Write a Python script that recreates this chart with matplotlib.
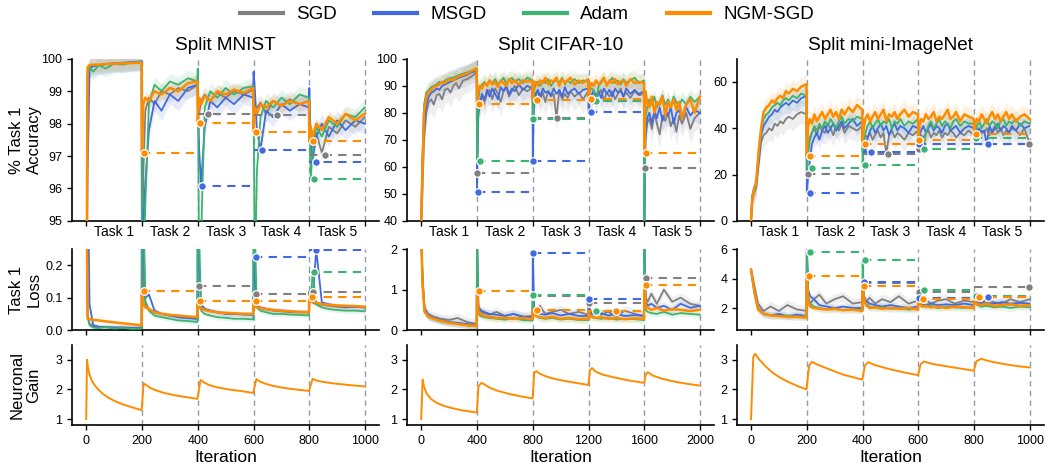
import matplotlib
matplotlib.use("Agg")
from matplotlib import pyplot as plt
import numpy as np

plt.rcParams['font.family'] = ['Liberation Sans', 'DejaVu Sans']

methods = ["SGD", "MSGD", "Adam", "NGM-SGD"]
colors = ["gray", "royalblue", "mediumseagreen", "darkorange"]

# iteration grid: start of each task + offsets inside a task
starts_1k = [0, 200, 400, 600, 800]
offsets_1k = [0, 5, 12, 25, 45, 70, 100, 130, 165, 199]
offsets_1k_fine = [0, 4, 10, 18, 27, 36, 45, 55, 65, 75, 85, 95, 105, 115, 125, 135, 150, 165, 180, 199]
starts_2k = [0, 400, 800, 1200, 1600]
offsets_2k = [0, 10, 24, 50, 90, 140, 200, 260, 330, 398]
offsets_2k_fine = [0, 8, 20, 36, 54, 72, 90, 110, 130, 150, 170, 190, 210, 230, 250, 270, 300, 330, 360, 398]

# ---------------- Split MNIST ----------------
mnist_acc_sgd = [90, 99.6, 99.72, 99.78, 99.8, 99.83, 99.85, 99.86, 99.88, 99.9,
                 93.5, 96.5, 98.4, 98.8, 98.6, 99.0, 98.9, 99.1, 99.0, 99.2,
                 98.5, 98.3, 98.7, 98.9, 98.7, 98.95, 98.8, 99.0, 98.9, 99.05,
                 98.6, 98.4, 98.5, 98.65, 98.3, 98.7, 98.55, 98.75, 98.6, 98.7,
                 98.6, 97.5, 97.3, 97.7, 97.1, 97.9, 97.7, 98.1, 97.9, 98.2]
mnist_acc_msgd = [90, 96.5, 99.7, 99.78, 99.8, 99.84, 99.86, 99.88, 99.9, 99.92,
                  93.0, 94.8, 96.2, 97.8, 98.7, 98.4, 98.9, 98.7, 99.1, 99.2,
                  99.0, 97.2, 96.1, 97.9, 98.7, 98.5, 98.8, 98.6, 98.9, 98.8,
                  99.6, 99.0, 97.8, 97.2, 98.4, 98.2, 98.6, 98.4, 98.6, 98.5,
                  99.1, 97.5, 96.9, 97.6, 98.0, 97.6, 98.1, 97.8, 98.1, 98.0]
mnist_acc_adam = [90, 99.5, 99.75, 99.6, 99.8, 99.7, 99.85, 99.82, 99.88, 99.9,
                  91.0, 93.0, 95.5, 98.6, 99.2, 99.0, 99.3, 99.2, 99.4, 99.3,
                  99.7, 93.5, 94.5, 98.5, 99.0, 98.8, 99.1, 98.9, 99.1, 99.15,
                  98.9, 93.0, 96.5, 98.2, 98.7, 98.5, 98.8, 98.6, 98.9, 98.8,
                  98.7, 96.3, 97.2, 97.9, 97.6, 98.1, 97.9, 98.3, 98.2, 98.5]
mnist_acc_ngm = [90, 99.75, 99.8, 99.82, 99.82, 99.84, 99.85, 99.86, 99.87, 99.88,
                 97.1, 98.6, 98.8, 98.7, 99.0, 98.9, 99.1, 99.0, 99.25, 99.3,
                 98.05, 98.8, 98.6, 98.85, 98.7, 99.0, 98.9, 99.05, 98.95, 99.1,
                 97.75, 98.5, 98.3, 98.6, 98.5, 98.7, 98.55, 98.7, 98.6, 98.7,
                 97.45, 97.9, 97.6, 98.0, 97.8, 98.2, 98.0, 98.3, 98.1, 98.3]
mnist_acc_spread = [0.25, 0.3, 0.25, 0.2]
# worst point of each later task: (iteration, value)
mnist_acc_min_sgd = [(205, 93.5), (436, 98.3), (683, 98.27), (856, 97.04)]
mnist_acc_min_msgd = [(200, 93.0), (416, 96.09), (632, 97.19), (824, 96.83)]
mnist_acc_min_adam = [(200, 91.0), (405, 93.5), (605, 93.0), (818, 96.29)]
mnist_acc_min_ngm = [(207, 97.09), (408, 98.03), (609, 97.73), (814, 97.45)]

mnist_loss_sgd = [0.6, 0.05, 0.02, 0.012, 0.01, 0.009, 0.008, 0.008, 0.007, 0.007,
                  0.6, 0.15, 0.08, 0.065, 0.055, 0.05, 0.045, 0.04, 0.038, 0.035,
                  0.136, 0.085, 0.07, 0.065, 0.06, 0.055, 0.052, 0.05, 0.05, 0.048,
                  0.112, 0.08, 0.07, 0.068, 0.065, 0.06, 0.058, 0.056, 0.055, 0.055,
                  0.119, 0.09, 0.085, 0.08, 0.078, 0.075, 0.072, 0.07, 0.072, 0.07]
mnist_loss_msgd = [0.6, 0.55, 0.08, 0.015, 0.01, 0.009, 0.008, 0.008, 0.007, 0.007,
                   0.6, 0.3, 0.1, 0.11, 0.06, 0.05, 0.045, 0.04, 0.037, 0.035,
                   0.6, 0.2, 0.08, 0.065, 0.06, 0.055, 0.05, 0.05, 0.048, 0.047,
                   0.225, 0.15, 0.075, 0.07, 0.065, 0.062, 0.06, 0.057, 0.056, 0.055,
                   0.1, 0.09, 0.1, 0.248, 0.085, 0.08, 0.075, 0.072, 0.072, 0.07]
mnist_loss_adam = [0.6, 0.04, 0.015, 0.008, 0.006, 0.01, 0.005, 0.007, 0.004, 0.005,
                   0.6, 0.4, 0.09, 0.06, 0.045, 0.04, 0.035, 0.03, 0.028, 0.025,
                   0.6, 0.3, 0.06, 0.05, 0.045, 0.04, 0.038, 0.035, 0.035, 0.033,
                   0.6, 0.3, 0.07, 0.06, 0.055, 0.05, 0.05, 0.048, 0.047, 0.045,
                   0.1, 0.09, 0.178, 0.08, 0.07, 0.065, 0.062, 0.06, 0.06, 0.058]
mnist_loss_ngm = [0.6, 0.035, 0.034, 0.032, 0.03, 0.027, 0.024, 0.021, 0.018, 0.015,
                  0.12, 0.08, 0.07, 0.065, 0.055, 0.05, 0.047, 0.045, 0.042, 0.04,
                  0.09, 0.07, 0.068, 0.062, 0.058, 0.055, 0.053, 0.052, 0.05, 0.05,
                  0.09, 0.075, 0.07, 0.068, 0.065, 0.062, 0.06, 0.058, 0.056, 0.055,
                  0.101, 0.09, 0.088, 0.085, 0.08, 0.078, 0.076, 0.075, 0.074, 0.072]
mnist_loss_spread = [0.008, 0.008, 0.008, 0.006]
mnist_loss_max_sgd = [(205, 0.6), (406, 0.136), (610, 0.112), (812, 0.119)]
mnist_loss_max_msgd = [(205, 0.6), (405, 0.6), (610, 0.225), (824, 0.248)]
mnist_loss_max_adam = [(205, 0.6), (405, 0.6), (605, 0.6), (818, 0.178)]
mnist_loss_max_ngm = [(207, 0.12), (408, 0.09), (609, 0.09), (811, 0.101)]

mnist_gain_x = [0, 3, 6, 12, 20, 30, 45, 60, 80, 100, 130, 160, 199,
                206, 215, 230, 250, 280, 320, 360, 399,
                410, 420, 440, 470, 510, 560, 599,
                610, 620, 640, 670, 710, 760, 799,
                812, 825, 850, 890, 940, 1000]
mnist_gain = [1.0, 3.0, 2.75, 2.5, 2.3, 2.15, 1.98, 1.85, 1.72, 1.62, 1.5, 1.41, 1.3,
              2.2, 2.15, 2.05, 1.97, 1.88, 1.8, 1.74, 1.68,
              2.32, 2.25, 2.15, 2.07, 2.0, 1.94, 1.88,
              2.35, 2.28, 2.2, 2.12, 2.05, 1.99, 1.95,
              2.36, 2.3, 2.25, 2.2, 2.15, 2.1]

# ---------------- Split CIFAR-10 ----------------
cifar_acc_sgd = [40, 50, 70, 80, 84, 85, 83, 86.5, 87, 85, 88.5, 89, 87.5, 90, 91, 89, 92, 92.5, 93.5, 95,
                 57.7, 78, 83, 86, 84, 87, 88.5, 85, 89, 87, 84, 88, 89.5, 86, 88, 90, 86.5, 89, 88, 89.5,
                 86, 82, 86, 88, 85, 87.5, 84, 88, 86, 87, 78, 88.5, 85, 87, 85.5, 88, 86, 87.5, 85, 88,
                 86, 84.5, 86.5, 88, 85, 87, 88.5, 84.5, 87.5, 86, 88, 85, 87, 89, 86, 87.5, 85.5, 88, 86.5, 87,
                 59.5, 70, 76, 78, 74, 80, 76, 72, 79, 77, 80, 75, 78, 73, 79, 76, 80, 74, 78, 80]
cifar_acc_msgd = [40, 62, 74, 83, 86, 87.5, 88, 89, 88.5, 90, 90.5, 91, 91.5, 92, 92.5, 93, 93.5, 94, 95, 95.5,
                  50.5, 80, 84, 87, 85, 88.5, 86, 89, 87, 85, 89.5, 88, 90, 87, 89, 88, 90.5, 88.5, 90, 89,
                  62, 84, 87, 88.5, 86, 89, 87.5, 88, 86.5, 89, 87, 88.5, 86, 89.5, 87, 88, 89, 87, 88.5, 89,
                  80.2, 84, 86, 88, 86.5, 88, 85.5, 89, 87, 88.5, 86, 89, 87.5, 88, 86, 89, 87, 88.5, 87, 88,
                  38, 72, 78, 80, 76, 81, 78, 82, 77, 80, 79, 82, 76, 80, 81, 78, 82, 79, 81, 80]
cifar_acc_adam = [40, 62, 83, 87.5, 88.5, 89.5, 90, 90.5, 91.5, 91, 92, 92.5, 93, 93, 93.5, 94, 94.5, 95, 95.5, 96,
                  62, 84, 89, 90.5, 91.5, 90, 92, 91, 92.5, 90.5, 91.5, 93, 91, 92, 93, 91.5, 92.5, 91, 93, 92,
                  77.8, 88, 90.5, 91.5, 90, 92, 91, 92.5, 90, 91.5, 92, 91, 93, 90.5, 92, 91, 92.5, 91, 92, 91.5,
                  87, 88, 89, 88.5, 84.2, 90, 91, 92.5, 90.5, 91.5, 93, 91, 92, 90.5, 92.5, 91, 92, 93, 91, 92,
                  35, 78, 82, 85, 83, 86, 82, 84, 86.5, 83, 85, 82, 86, 84, 82.5, 85, 83, 86, 84, 86]
cifar_acc_ngm = [40, 57, 80, 86, 88, 88.5, 89.5, 90, 90.5, 91.5, 91, 92, 92.5, 92, 93, 93.5, 94, 94.5, 95.5, 96.5,
                 83.3, 88, 90, 89, 91, 90, 92, 90.5, 91.5, 89.5, 92, 91, 90, 92.5, 91, 92, 90.5, 92, 91.5, 92,
                 84.8, 90, 91.5, 90, 92, 91, 93, 90.5, 92, 91.5, 93, 90, 92.5, 91, 92, 93, 90.5, 92, 91, 92.5,
                 85.2, 89, 91, 90, 92, 90.5, 91.5, 93, 90, 92, 91, 92.5, 90.5, 91.5, 92, 90, 92.5, 91, 91.5, 91,
                 65, 88, 84, 82, 86, 80, 84, 83, 86, 79, 84, 82, 85, 81, 84, 78, 83, 85, 80, 86]
cifar_acc_spread = [5, 4, 3, 3]
cifar_acc_min_sgd = [(402, 57.7), (977, 78.0), (1230, 84.5), (1605, 59.5)]
cifar_acc_min_msgd = [(407, 50.5), (805, 62.0), (1214, 80.2), (1600, 38)]
cifar_acc_min_adam = [(419, 62.0), (805, 77.8), (1253, 84.2), (1600, 35)]
cifar_acc_min_ngm = [(415, 83.3), (831, 84.8), (1214, 85.2), (1610, 65.0)]

cifar_loss_sgd = [2.3, 1.3, 0.55, 0.4, 0.33, 0.28, 0.25, 0.3, 0.2, 0.15,
                  2.3, 0.5, 0.45, 0.42, 0.38, 0.45, 0.35, 0.4, 0.33, 0.35,
                  0.85, 0.5, 0.45, 0.6, 0.4, 0.45, 0.5, 0.4, 0.45, 0.38,
                  0.68, 0.45, 0.4, 0.5, 0.38, 0.45, 0.35, 0.48, 0.4, 0.35,
                  1.28, 0.8, 0.7, 0.9, 0.65, 1.0, 0.7, 0.8, 0.65, 0.6]
cifar_loss_msgd = [2.3, 1.2, 0.5, 0.35, 0.3, 0.25, 0.2, 0.18, 0.15, 0.12,
                   2.3, 0.6, 0.5, 0.45, 0.4, 0.38, 0.35, 0.4, 0.33, 0.32,
                   1.9, 0.55, 0.45, 0.4, 0.38, 0.42, 0.36, 0.4, 0.35, 0.35,
                   0.77, 0.45, 0.4, 0.38, 0.42, 0.36, 0.4, 0.35, 0.37, 0.35,
                   2.2, 0.7, 0.6, 0.65, 0.55, 0.6, 0.5, 0.65, 0.55, 0.6]
cifar_loss_adam = [2.3, 1.1, 0.45, 0.33, 0.28, 0.22, 0.18, 0.15, 0.12, 0.1,
                   2.3, 0.4, 0.35, 0.32, 0.3, 0.28, 0.26, 0.3, 0.25, 0.24,
                   0.86, 0.4, 0.35, 0.3, 0.28, 0.3, 0.26, 0.28, 0.25, 0.25,
                   0.48, 0.35, 0.32, 0.3, 0.28, 0.3, 0.26, 0.28, 0.27, 0.25,
                   2.3, 0.5, 0.45, 0.42, 0.4, 0.45, 0.38, 0.42, 0.4, 0.38]
cifar_loss_ngm = [2.3, 1.1, 0.45, 0.33, 0.28, 0.23, 0.18, 0.15, 0.12, 0.1,
                  0.975, 0.45, 0.4, 0.35, 0.33, 0.3, 0.3, 0.28, 0.3, 0.27,
                  0.5, 0.38, 0.35, 0.32, 0.3, 0.33, 0.28, 0.3, 0.27, 0.28,
                  0.48, 0.36, 0.33, 0.3, 0.32, 0.28, 0.3, 0.27, 0.29, 0.28,
                  1.125, 0.6, 0.55, 0.5, 0.55, 0.48, 0.52, 0.5, 0.47, 0.5]
cifar_loss_spread = [0.12, 0.1, 0.08, 0.08]
cifar_loss_max_sgd = [(400, 2.3), (805, 0.85), (1202, 0.68), (1612, 1.28)]
cifar_loss_max_msgd = [(400, 2.3), (805, 1.9), (1202, 0.77), (1600, 2.2)]
cifar_loss_max_adam = [(400, 2.3), (805, 0.86), (1253, 0.48), (1600, 2.3)]
cifar_loss_max_ngm = [(415, 0.975), (831, 0.5), (1397, 0.48), (1612, 1.125)]

cifar_gain_x = [0, 10, 20, 40, 70, 110, 160, 220, 300, 399,
                410, 430, 450, 490, 550, 630, 720, 799,
                810, 825, 850, 900, 970, 1060, 1199,
                1210, 1225, 1250, 1300, 1380, 1480, 1599,
                1610, 1625, 1660, 1720, 1820, 1920, 2000]
cifar_gain = [1.0, 2.33, 2.1, 1.85, 1.68, 1.55, 1.45, 1.37, 1.29, 1.22,
              2.1, 2.22, 2.18, 2.06, 1.95, 1.85, 1.76, 1.7,
              2.55, 2.62, 2.53, 2.43, 2.34, 2.26, 2.15,
              2.65, 2.72, 2.6, 2.5, 2.41, 2.31, 2.22,
              2.5, 2.58, 2.47, 2.37, 2.26, 2.18, 2.13]

# ---------------- Split mini-ImageNet ----------------
mini_acc_sgd = [0, 8, 12, 14, 24, 34, 37, 38, 40, 39, 42, 41, 43, 42, 44, 45, 44, 46, 47, 46,
                20.4, 32, 36, 38, 40, 37, 41, 39, 38, 42, 40, 37, 41, 39, 42, 38, 41, 40, 39, 41,
                30, 34, 37, 36, 38, 35, 37, 39, 36, 38, 29, 37, 39, 36, 38, 37, 35, 38, 37, 39,
                31.5, 35, 37, 36, 38, 39, 36, 38, 37, 39, 36, 38, 37, 39, 38, 36, 38, 37, 39, 37,
                36, 38, 40, 37, 39, 38, 40, 37, 39, 41, 38, 40, 37, 39, 38, 40, 39, 37, 40, 33.4]
mini_acc_msgd = [0, 10, 13, 15, 26, 37, 41, 43, 45, 46, 48, 47, 49, 50, 51, 50, 52, 51, 53, 54,
                 12, 18, 25, 33, 36, 38, 35, 39, 41, 38, 40, 42, 39, 41, 43, 40, 42, 44, 41, 43,
                 35, 33, 29.6, 36, 39, 41, 38, 40, 42, 39, 41, 37, 40, 42, 39, 41, 40, 38, 41, 40,
                 33.3, 37, 39, 41, 38, 40, 42, 39, 41, 40, 38, 41, 42, 39, 40, 41, 38, 40, 41, 40,
                 38, 39, 37, 40, 38, 39, 33.2, 41, 38, 40, 42, 39, 41, 40, 38, 41, 39, 42, 40, 41]
mini_acc_adam = [0, 11, 14, 16, 28, 39, 44, 46, 47, 49, 50, 51, 50, 52, 53, 52, 54, 53, 55, 54,
                 22.8, 28, 34, 38, 41, 39, 42, 40, 43, 41, 44, 42, 40, 43, 45, 42, 44, 43, 45, 44,
                 24, 34, 38, 41, 43, 40, 42, 44, 41, 43, 42, 44, 40, 43, 42, 44, 41, 43, 42, 44,
                 36, 34, 33, 31.0, 38, 41, 43, 40, 42, 44, 41, 43, 42, 40, 43, 44, 41, 43, 42, 42,
                 35.9, 39, 41, 43, 40, 42, 44, 41, 43, 42, 40, 43, 44, 41, 43, 42, 44, 41, 43, 42]
mini_acc_ngm = [0, 9, 13, 16, 30, 40, 47, 49, 50, 52, 51, 53, 54, 53, 56, 55, 57, 56, 58, 59,
                27.9, 40, 44, 42, 46, 43, 45, 47, 44, 46, 48, 45, 47, 44, 48, 46, 49, 47, 50, 48,
                33, 40, 44, 46, 43, 45, 47, 44, 46, 48, 43, 46, 45, 47, 44, 46, 48, 45, 47, 46,
                35.1, 41, 44, 43, 46, 44, 45, 47, 43, 45, 44, 46, 48, 44, 45, 47, 43, 46, 45, 44,
                37.7, 42, 44, 43, 46, 44, 42, 45, 47, 44, 46, 43, 45, 47, 44, 46, 43, 45, 46, 44]
mini_acc_spread = [5, 4, 4, 4]
mini_acc_min_sgd = [(203, 20.4), (490, 29.0), (604, 31.2), (995, 33.4)]
mini_acc_min_msgd = [(212, 12.0), (431, 29.6), (604, 33.3), (849, 33.2)]
mini_acc_min_adam = [(218, 22.8), (407, 24.0), (621, 31.0), (805, 35.9)]
mini_acc_min_ngm = [(212, 27.9), (407, 33.0), (604, 35.1), (807, 37.7)]

mini_loss_sgd = [4.6, 4.2, 3.5, 2.3, 1.8, 2.1, 1.8, 2.2, 1.9, 1.8,
                 6.3, 2.6, 2.3, 2.6, 2.9, 2.3, 2.6, 2.8, 2.3, 2.4,
                 3.7, 2.6, 2.4, 2.7, 2.3, 2.6, 2.4, 2.8, 2.3, 2.5,
                 3.1, 2.5, 2.4, 2.6, 2.3, 2.5, 2.6, 2.3, 2.5, 2.4,
                 3.0, 2.5, 2.6, 2.3, 2.6, 2.4, 2.3, 2.6, 2.4, 2.6]
mini_loss_msgd = [4.6, 4.0, 3.2, 2.0, 1.6, 1.5, 1.6, 1.45, 1.55, 1.45,
                  6.05, 3.2, 2.8, 2.6, 2.2, 2.1, 2.0, 2.1, 2.0, 2.0,
                  3.78, 2.8, 2.5, 2.3, 2.2, 2.1, 2.2, 2.1, 2.0, 2.1,
                  2.69, 2.4, 2.3, 2.2, 2.3, 2.2, 2.25, 2.2, 2.3, 2.2,
                  2.76, 2.5, 2.4, 2.3, 2.35, 2.3, 2.4, 2.3, 2.35, 2.3]
mini_loss_adam = [4.6, 3.9, 3.0, 1.9, 1.6, 1.5, 1.45, 1.5, 1.4, 1.45,
                  5.82, 2.8, 2.3, 2.1, 2.0, 1.9, 1.95, 1.85, 1.9, 1.85,
                  5.27, 2.7, 2.3, 2.1, 2.0, 2.05, 1.95, 2.0, 1.9, 1.95,
                  3.2, 2.4, 2.2, 2.1, 2.15, 2.0, 2.1, 2.05, 2.0, 2.05,
                  2.8, 2.3, 2.2, 2.1, 2.15, 2.05, 2.1, 2.0, 2.1, 2.05]
mini_loss_ngm = [4.6, 4.0, 3.1, 1.9, 1.6, 1.5, 1.45, 1.4, 1.4, 1.35,
                 4.17, 2.4, 2.1, 2.0, 1.95, 1.9, 1.95, 1.85, 1.9, 1.8,
                 3.49, 2.6, 2.2, 2.0, 2.05, 1.95, 2.0, 1.95, 2.0, 1.9,
                 2.64, 2.3, 2.1, 2.15, 2.05, 2.1, 2.0, 2.1, 2.05, 2.0,
                 2.76, 2.4, 2.25, 2.2, 2.3, 2.15, 2.2, 2.25, 2.15, 2.2]
mini_loss_spread = [0.35, 0.25, 0.25, 0.2]
mini_loss_max_sgd = [(205, 6.3), (405, 3.7), (604, 3.1), (997, 3.42)]
mini_loss_max_msgd = [(208, 6.05), (405, 3.78), (604, 2.69), (849, 2.76)]
mini_loss_max_adam = [(210, 5.82), (407, 5.27), (619, 3.2), (805, 2.8)]
mini_loss_max_ngm = [(208, 4.17), (405, 3.49), (616, 2.64), (816, 2.76)]

mini_gain_x = [0, 8, 15, 30, 50, 75, 100, 130, 165, 199,
               208, 218, 240, 280, 330, 399,
               408, 420, 445, 490, 550, 599,
               608, 620, 650, 700, 760, 799,
               808, 825, 860, 910, 960, 1000]
mini_gain = [1.0, 3.1, 3.2, 3.0, 2.8, 2.58, 2.42, 2.27, 2.12, 2.0,
             2.8, 2.93, 2.83, 2.68, 2.5, 2.33,
             2.8, 2.92, 2.82, 2.7, 2.57, 2.48,
             2.85, 2.94, 2.86, 2.78, 2.69, 2.63,
             2.95, 3.03, 2.94, 2.85, 2.78, 2.74]

titles = ["Split MNIST", "Split CIFAR-10", "Split mini-ImageNet"]
task_labels = ["Task 1", "Task 2", "Task 3", "Task 4", "Task 5"]
row_labels = ["% Task 1\nAccuracy", "Task 1\nLoss", "Neuronal\nGain"]

bound_color = "#8d9db0"


def grid(starts, offsets):
    return np.array([s + o for s in starts for o in offsets])


def draw_metric(ax, x, curves, spread, marks, starts, task_len):
    for vals, s, c in zip(curves, spread, colors):
        v = np.array(vals, dtype=float)
        ax.fill_between(x, v - s, v + s, color=c, alpha=0.12, lw=0)
    for vals, c in zip(curves, colors):
        ax.plot(x, vals, color=c, lw=1.3 if c != "darkorange" else 1.8, zorder=3)
    for pts, c in zip(marks, colors):
        for k, (px, py) in enumerate(pts):
            t0 = starts[k + 1]
            ax.plot([t0, t0 + task_len], [py, py], color=c, lw=1.5,
                    ls=(0, (4, 3)), zorder=4)
            ax.plot(px, py, "o", color=c, ms=5.5, mec="white", mew=0.9, zorder=5)


fig = plt.figure(figsize=(10.47, 4.63), dpi=100)
lefts = [0.069, 0.389, 0.704]
width = 0.293
rows = [(0.523, 0.35), (0.287, 0.175), (0.082, 0.173)]

datasets = [
    dict(ax_x=grid(starts_1k, offsets_1k), lx=grid(starts_1k, offsets_1k), starts=starts_1k, tl=200,
         acc=[mnist_acc_sgd, mnist_acc_msgd, mnist_acc_adam, mnist_acc_ngm],
         acc_s=mnist_acc_spread,
         acc_m=[mnist_acc_min_sgd, mnist_acc_min_msgd, mnist_acc_min_adam, mnist_acc_min_ngm],
         loss=[mnist_loss_sgd, mnist_loss_msgd, mnist_loss_adam, mnist_loss_ngm],
         loss_s=mnist_loss_spread,
         loss_m=[mnist_loss_max_sgd, mnist_loss_max_msgd, mnist_loss_max_adam, mnist_loss_max_ngm],
         gx=mnist_gain_x, g=mnist_gain,
         acc_lim=(95, 100), acc_ticks=[95, 96, 97, 98, 99, 100],
         loss_lim=(0, 0.25), loss_ticks=[0.0, 0.1, 0.2], loss_fmt="{:.1f}"),
    dict(ax_x=grid(starts_2k, offsets_2k_fine), lx=grid(starts_2k, offsets_2k), starts=starts_2k, tl=400,
         acc=[cifar_acc_sgd, cifar_acc_msgd, cifar_acc_adam, cifar_acc_ngm],
         acc_s=cifar_acc_spread,
         acc_m=[cifar_acc_min_sgd, cifar_acc_min_msgd, cifar_acc_min_adam, cifar_acc_min_ngm],
         loss=[cifar_loss_sgd, cifar_loss_msgd, cifar_loss_adam, cifar_loss_ngm],
         loss_s=cifar_loss_spread,
         loss_m=[cifar_loss_max_sgd, cifar_loss_max_msgd, cifar_loss_max_adam, cifar_loss_max_ngm],
         gx=cifar_gain_x, g=cifar_gain,
         acc_lim=(40, 100), acc_ticks=[40, 50, 60, 70, 80, 90, 100],
         loss_lim=(0, 2), loss_ticks=[0, 1, 2], loss_fmt="{:.0f}"),
    dict(ax_x=grid(starts_1k, offsets_1k_fine), lx=grid(starts_1k, offsets_1k), starts=starts_1k, tl=200,
         acc=[mini_acc_sgd, mini_acc_msgd, mini_acc_adam, mini_acc_ngm],
         acc_s=mini_acc_spread,
         acc_m=[mini_acc_min_sgd, mini_acc_min_msgd, mini_acc_min_adam, mini_acc_min_ngm],
         loss=[mini_loss_sgd, mini_loss_msgd, mini_loss_adam, mini_loss_ngm],
         loss_s=mini_loss_spread,
         loss_m=[mini_loss_max_sgd, mini_loss_max_msgd, mini_loss_max_adam, mini_loss_max_ngm],
         gx=mini_gain_x, g=mini_gain,
         acc_lim=(0, 70), acc_ticks=[0, 20, 40, 60],
         loss_lim=(0.5, 6), loss_ticks=[2, 4, 6], loss_fmt="{:.0f}"),
]

for col, d in enumerate(datasets):
    tl = d["tl"]
    xmax = 5 * tl
    bounds = [tl * k for k in range(1, 6)]
    axes = [fig.add_axes([lefts[col], b, width, h]) for b, h in rows]
    for ax in axes:
        ax.spines["top"].set_visible(False)
        ax.spines["right"].set_visible(False)
        for sp in ["left", "bottom"]:
            ax.spines[sp].set_linewidth(1.2)
        ax.set_xlim(-0.05 * xmax, 1.05 * xmax)
        ax.set_xticks([0] + bounds)
        ax.tick_params(labelsize=9, length=3.5, width=1)
        for b in bounds:
            ax.axvline(b, color=bound_color, lw=1, ls=(0, (4, 3)), zorder=1)

    a0, a1, a2 = axes
    draw_metric(a0, d["ax_x"], d["acc"], d["acc_s"], d["acc_m"], d["starts"], tl)
    a0.set_ylim(*d["acc_lim"])
    a0.set_yticks(d["acc_ticks"])
    a0.set_xticklabels([])
    a0.set_xticks([tl * (k + 0.5) for k in range(5)], minor=True)
    a0.set_xticklabels(task_labels, minor=True)
    a0.tick_params(axis="x", which="minor", length=0, labelsize=10, pad=3)
    a0.set_title(titles[col], fontsize=13.7, pad=6)

    draw_metric(a1, d["lx"], d["loss"], d["loss_s"], d["loss_m"], d["starts"], tl)
    a1.set_ylim(*d["loss_lim"])
    a1.set_yticks(d["loss_ticks"])
    a1.set_yticklabels([d["loss_fmt"].format(t) for t in d["loss_ticks"]])
    a1.set_xticklabels([])

    a2.plot(d["gx"], d["g"], color="darkorange", lw=1.4, zorder=3)
    a2.set_ylim(0.8, 3.5)
    a2.set_yticks([1, 2, 3])
    a2.set_xticklabels([str(t) for t in [0] + bounds])
    a2.set_xlabel("Iteration", fontsize=12.5, labelpad=2)

    if col == 0:
        for ax, lab in zip(axes, row_labels):
            ax.set_ylabel(lab, fontsize=12, linespacing=1.2)
            ax.yaxis.set_label_coords(-0.1, 0.5)

handles = [plt.Line2D([], [], color=c, lw=3) for c in colors]
fig.legend(handles, methods, loc="center", bbox_to_anchor=(0.503, 0.968), ncol=4,
           frameon=False, fontsize=13.5, handlelength=2.3, handletextpad=0.7,
           columnspacing=2.0)

fig.savefig("out.png", dpi=100)
